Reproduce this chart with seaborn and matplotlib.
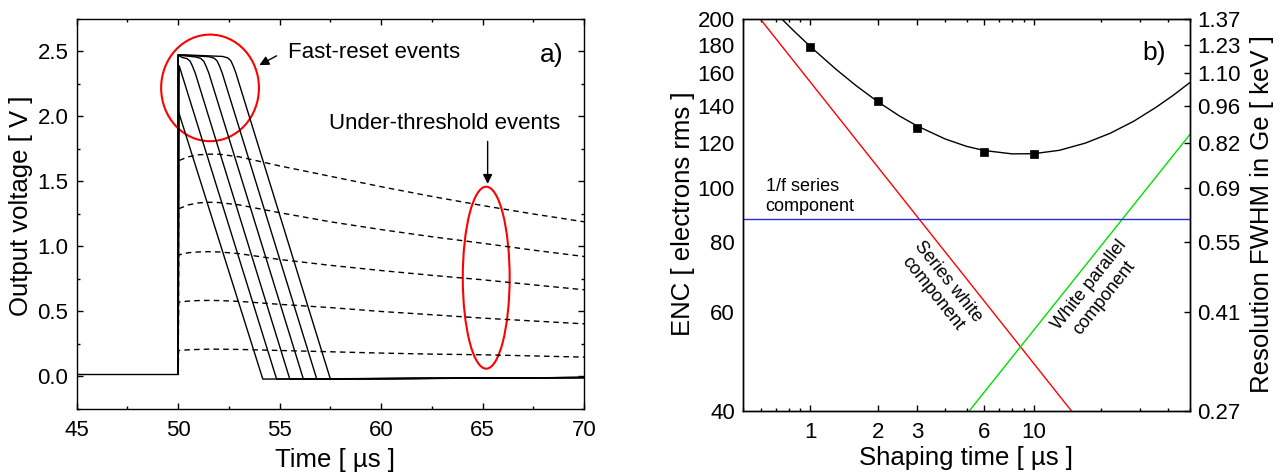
import numpy as np
import pandas as pd
import matplotlib
matplotlib.use("Agg")
import matplotlib.pyplot as plt
import seaborn as sns
from matplotlib.patches import Ellipse
from matplotlib.ticker import (FixedLocator, FixedFormatter, NullLocator,
                               LogLocator, MultipleLocator, NullFormatter)

# ---------------- Panel a) data: output voltage vs time ----------------
# fast-reset events (solid black)
fast_t = [
    [50.0, 50.03, 54.17, 70.0],
    [50.0, 50.05, 54.85, 70.0],
    [50.0, 50.0, 50.19, 50.44, 50.59, 50.71, 50.84, 55.50, 70.0],
    [50.0, 50.0, 50.86, 51.11, 51.26, 51.38, 51.51, 56.17, 70.0],
    [50.0, 50.0, 51.52, 51.77, 51.92, 52.04, 52.17, 56.83, 70.0],
    [50.0, 50.0, 52.19, 52.44, 52.59, 52.71, 52.84, 57.50, 70.0],
]
fast_v = [
    [0.02, 2.03, -0.02, -0.008],
    [0.02, 2.39, -0.02, -0.008],
    [0.02, 2.470, 2.455, 2.445, 2.425, 2.385, 2.334, -0.02, -0.008],
    [0.02, 2.472, 2.458, 2.447, 2.425, 2.385, 2.334, -0.02, -0.008],
    [0.02, 2.474, 2.460, 2.449, 2.427, 2.387, 2.334, -0.02, -0.008],
    [0.02, 2.476, 2.462, 2.451, 2.430, 2.390, 2.336, -0.02, -0.008],
]
baseline_t = [45.0, 50.0]
baseline_v = [0.02, 0.02]

# under-threshold events (dashed black)
under_t = [50.0, 50.02, 50.5, 51.0, 51.5, 52.0, 53.0, 55.0, 57.5, 60.0, 62.5, 65.0, 67.5, 70.0]
under_v = [
    [0.02, 1.66, 1.69, 1.705, 1.71, 1.71, 1.69, 1.62, 1.54, 1.46, 1.385, 1.315, 1.25, 1.19],
    [0.02, 1.29, 1.32, 1.335, 1.34, 1.338, 1.32, 1.26, 1.19, 1.13, 1.075, 1.025, 0.972, 0.923],
    [0.02, 0.935, 0.952, 0.958, 0.96, 0.958, 0.945, 0.90, 0.855, 0.815, 0.778, 0.744, 0.705, 0.667],
    [0.02, 0.572, 0.58, 0.584, 0.585, 0.584, 0.578, 0.555, 0.53, 0.50, 0.475, 0.449, 0.427, 0.405],
    [0.02, 0.20, 0.205, 0.208, 0.21, 0.21, 0.208, 0.20, 0.19, 0.18, 0.172, 0.167, 0.158, 0.149],
]

# ---------------- Panel b) data: ENC vs shaping time ----------------
meas_tau = [1, 2, 3, 6, 10]
meas_enc = [178.5, 143.0, 127.8, 116.0, 115.0]

fit_tau = [0.74, 0.85, 1.0, 1.3, 1.6, 2.0, 2.5, 3.0, 4.0, 5.0, 6.0, 8.0, 10.0,
           13.0, 17.0, 22.0, 28.0, 35.0, 42.0, 50.0]
fit_enc = [200.4, 189.8, 178.5, 162.7, 152.1, 142.4, 134.3, 128.9, 122.2, 118.5,
           116.5, 114.9, 115.0, 116.6, 120.1, 125.1, 131.4, 138.9, 146.1, 154.1]

series_white_tau = [0.596, 14.7]
series_white_enc = [200.0, 40.0]
parallel_tau = [5.15, 50.0]
parallel_enc = [40.0, 124.5]
flicker_tau = [0.5, 50.0]
flicker_enc = [87.9, 87.9]

x_ticks_b = [1, 2, 3, 6, 10]
x_ticklabels_b = ["1", "2", "3", "6", "10"]
enc_ticks = [40, 60, 80, 100, 120, 140, 160, 180, 200]
enc_ticklabels = ["40", "60", "80", "100", "120", "140", "160", "180", "200"]
kev_ticklabels = ["0.27", "0.41", "0.55", "0.69", "0.82", "0.96", "1.10", "1.23", "1.37"]

# ---------------- style ----------------
sns.set_theme(style="ticks")
plt.rcParams["font.family"] = ["Liberation Sans", "DejaVu Sans"]
plt.rcParams.update({
    "axes.linewidth": 1.0,
    "axes.edgecolor": "black",
    "xtick.color": "black",
    "ytick.color": "black",
    "text.color": "black",
})

TICK_FS = 16
LABEL_FS = 18.5

fig = plt.figure(figsize=(12.83, 4.75), dpi=100)
ax1 = fig.add_axes([0.0598, 0.139, 0.3954, 0.821])
ax2 = fig.add_axes([0.5793, 0.1354, 0.3482, 0.8246])

# ---------------- Panel a ----------------
sns.lineplot(x=baseline_t, y=baseline_v, ax=ax1, color="black", lw=1.0,
             sort=False, estimator=None)
for t, v in zip(fast_t, fast_v):
    sns.lineplot(x=t, y=v, ax=ax1, color="black", lw=1.0, sort=False, estimator=None)
for v in under_v:
    sns.lineplot(x=under_t, y=v, ax=ax1, color="black", lw=1.0, sort=False,
                 estimator=None, dashes=False, linestyle=(0, (4, 3)))

ax1.set_xlim(45, 70)
ax1.set_ylim(-0.25, 2.75)
ax1.xaxis.set_major_locator(MultipleLocator(5))
ax1.xaxis.set_minor_locator(MultipleLocator(2.5))
ax1.yaxis.set_major_locator(MultipleLocator(0.5))
ax1.yaxis.set_minor_locator(MultipleLocator(0.25))
ax1.yaxis.set_major_formatter(matplotlib.ticker.FormatStrFormatter("%.1f"))
ax1.tick_params(axis="both", which="both", direction="in", top=True, right=True,
                width=1.0, labelsize=TICK_FS)
ax1.tick_params(axis="both", which="major", length=4.5)
ax1.tick_params(axis="both", which="minor", length=2.3)
ax1.tick_params(axis="x", which="major", pad=8)
ax1.tick_params(axis="y", which="major", pad=6)
ax1.set_xlabel("")
ax1.set_ylabel("")

ax1.add_patch(Ellipse((51.57, 2.22), 4.82, 0.82, fill=False, edgecolor="#ff0000", lw=1.5))
ax1.add_patch(Ellipse((65.18, 0.76), 2.31, 1.40, fill=False, edgecolor="#ff0000", lw=1.5))
ax1.annotate("", xy=(53.88, 2.385), xytext=(54.97, 2.477),
             arrowprops=dict(arrowstyle="-|>", color="black", lw=1.0, mutation_scale=14))
ax1.annotate("", xy=(65.25, 1.46), xytext=(65.25, 1.83),
             arrowprops=dict(arrowstyle="-|>", color="black", lw=1.0, mutation_scale=14))
ax1.text(55.41, 2.49, "Fast-reset events", fontsize=16, ha="left", va="center")
ax1.text(57.43, 1.944, "Under-threshold events", fontsize=16, ha="left", va="center")
ax1.text(68.42, 2.47, "a)", fontsize=19, ha="center", va="center")

fig.text(0.0164, 0.5663, "Output voltage [ V ]", rotation=90, fontsize=LABEL_FS,
         ha="center", va="center")
fig.text(0.2611, 0.0175, "Time [ \u00b5s ]", fontsize=LABEL_FS, ha="center", va="baseline")

# ---------------- Panel b ----------------
ax2.set_xscale("log")
ax2.set_yscale("log")
sns.lineplot(x=fit_tau, y=fit_enc, ax=ax2, color="black", lw=1.0, sort=False, estimator=None)
sns.lineplot(x=series_white_tau, y=series_white_enc, ax=ax2, color="#ff0000", lw=1.0,
             sort=False, estimator=None)
sns.lineplot(x=parallel_tau, y=parallel_enc, ax=ax2, color="#00e000", lw=1.0,
             sort=False, estimator=None)
sns.lineplot(x=flicker_tau, y=flicker_enc, ax=ax2, color="#2a2ae0", lw=1.0,
             sort=False, estimator=None)
sns.scatterplot(x=meas_tau, y=meas_enc, ax=ax2, marker="s", s=26, color="black",
                edgecolor="black", linewidth=0.5, zorder=5)

ax2.set_xlim(0.5, 50)
ax2.set_ylim(40, 200)
ax2.xaxis.set_major_locator(FixedLocator(x_ticks_b))
ax2.xaxis.set_major_formatter(FixedFormatter(x_ticklabels_b))
ax2.xaxis.set_minor_locator(LogLocator(base=10, subs=np.arange(2, 10)))
ax2.xaxis.set_minor_formatter(NullFormatter())
ax2.yaxis.set_major_locator(FixedLocator(enc_ticks))
ax2.yaxis.set_major_formatter(FixedFormatter(enc_ticklabels))
ax2.yaxis.set_minor_locator(NullLocator())
ax2.tick_params(axis="x", which="both", direction="in", top=True, width=1.0,
                labelsize=TICK_FS)
ax2.tick_params(axis="x", which="major", length=4.5, pad=8)
ax2.tick_params(axis="x", which="minor", length=2.3)
ax2.tick_params(axis="y", which="both", direction="in", length=0, labelsize=TICK_FS, pad=6)
ax2.set_xlabel("")
ax2.set_ylabel("")

ax2r = ax2.twinx()
ax2r.set_yscale("log")
ax2r.set_ylim(40, 200)
ax2r.yaxis.set_major_locator(FixedLocator(enc_ticks))
ax2r.yaxis.set_major_formatter(FixedFormatter(kev_ticklabels))
ax2r.yaxis.set_minor_locator(NullLocator())
ax2r.tick_params(axis="y", which="major", direction="in", length=4.5, width=1.0,
                 labelsize=TICK_FS, pad=5)
for sp in ax2r.spines.values():
    sp.set_linewidth(1.0)

ax2.text(0.919, 0.912, "b)", transform=ax2.transAxes, fontsize=19, ha="center", va="center")
ax2.text(0.63, 96.4, "1/f series\ncomponent", fontsize=13, ha="left", va="center",
         multialignment="left")
ax2.text(3.81, 66.4, "Series white\ncomponent", fontsize=13, ha="center", va="center",
         rotation=-51.5, rotation_mode="anchor", multialignment="center")
ax2.text(19.1, 65.3, "White parallel\ncomponent", fontsize=13, ha="center", va="center",
         rotation=51.5, rotation_mode="anchor", multialignment="center")

fig.text(0.5323, 0.5495, "ENC [ electrons rms ]", rotation=90, fontsize=LABEL_FS,
         ha="center", va="center")
fig.text(0.9836, 0.5495, "Resolution FWHM in Ge [ keV ]", rotation=90, fontsize=LABEL_FS,
         ha="center", va="center")
fig.text(0.7532, 0.021, "Shaping time [ \u00b5s ]", fontsize=LABEL_FS, ha="center",
         va="baseline")

fig.savefig("out.png", dpi=100)
